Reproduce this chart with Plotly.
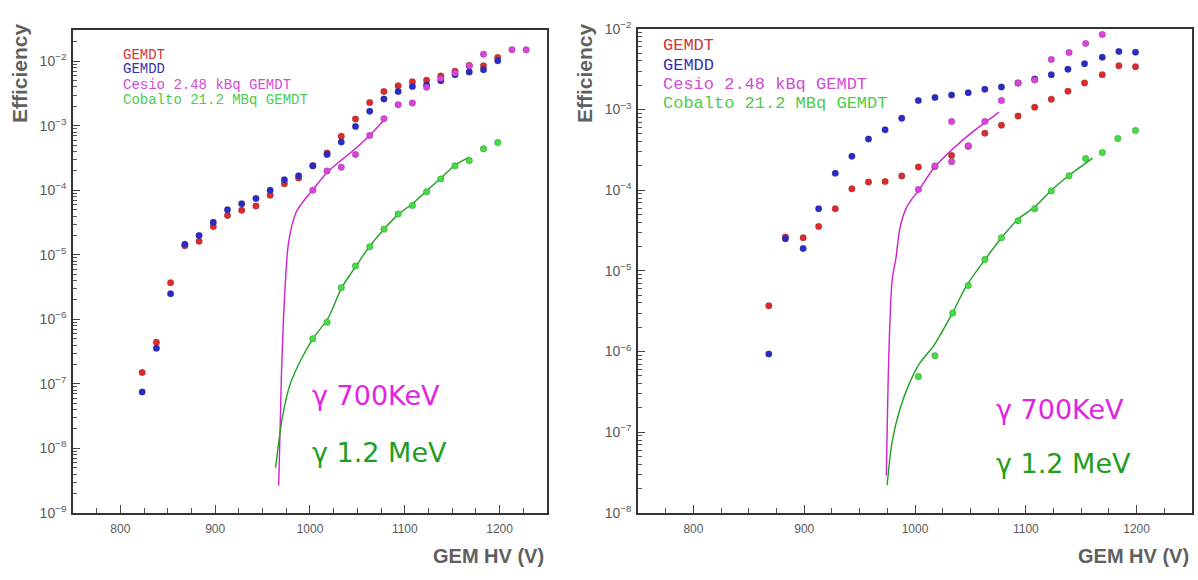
import plotly.graph_objects as go

# ---------------- left panel: efficiency vs GEM HV ----------------
hv_l = [823, 838, 853, 868, 883, 898, 913, 928, 943, 958, 973, 988, 1003,
        1018, 1033, 1048, 1063, 1078, 1093, 1108, 1123, 1138, 1153, 1168,
        1183, 1198]
gemdt_l = [1.5e-7, 4.4e-7, 3.7e-6, 1.38e-5, 1.62e-5, 2.75e-5, 4.07e-5, 4.9e-5,
           5.7e-5, 8.4e-5, 1.27e-4, 1.55e-4, 2.4e-4, 3.8e-4, 6.9e-4, 1.27e-3,
           2.29e-3, 3.4e-3, 4.17e-3, 4.8e-3, 5.1e-3, 5.9e-3, 7.0e-3, 8.6e-3,
           8.5e-3, 1.15e-2]
gemdd_l = [7.5e-8, 3.55e-7, 2.5e-6, 1.46e-5, 2.0e-5, 3.2e-5, 5.0e-5, 6.2e-5,
           7.5e-5, 1.0e-4, 1.46e-4, 1.68e-4, 2.4e-4, 3.6e-4, 5.6e-4, 9.8e-4,
           1.68e-3, 2.6e-3, 3.4e-3, 4.07e-3, 4.3e-3, 5.0e-3, 6.2e-3, 6.8e-3,
           7.4e-3, 1.02e-2]
hv_cs_l = [1003, 1018, 1033, 1048, 1063, 1078, 1093, 1108, 1123, 1138, 1153,
           1168, 1183, 1213, 1228]
cesio_l = [1.0e-4, 2.0e-4, 2.27e-4, 3.6e-4, 7.1e-4, 1.29e-3, 2.13e-3, 2.25e-3,
           3.95e-3, 5.4e-3, 6.6e-3, 8.5e-3, 1.29e-2, 1.51e-2, 1.51e-2]
hv_co_l = [1003, 1018, 1033, 1048, 1063, 1078, 1093, 1108, 1123, 1138, 1153,
           1168, 1183, 1198]
cobalto_l = [5.0e-7, 9.0e-7, 3.1e-6, 6.7e-6, 1.33e-5, 2.5e-5, 4.3e-5, 5.8e-5,
             9.5e-5, 1.5e-4, 2.4e-4, 2.9e-4, 4.4e-4, 5.5e-4]

# fitted curves (left)
fit_cs_hv_l = [967.0, 969.8, 973.0, 977.4, 985.5, 993.5, 1002, 1019, 1035,
               1050, 1065, 1078]
fit_cs_l = [2.66e-9, 1.23e-7, 1.95e-6, 1.55e-5, 4.62e-5, 6.9e-5, 9.8e-5,
            1.95e-4, 3.1e-4, 4.7e-4, 7.6e-4, 1.23e-3]
fit_co_hv_l = [963.7, 971, 979, 991, 1003, 1019, 1033.5, 1048, 1062, 1078,
               1093, 1108, 1123, 1138, 1153, 1168]
fit_co_l = [5.0e-9, 3.1e-8, 9.8e-8, 2.45e-7, 5.0e-7, 1.04e-6, 3.1e-6, 6.5e-6,
            1.3e-5, 2.5e-5, 4.2e-5, 6.2e-5, 9.8e-5, 1.55e-4, 2.45e-4, 3.27e-4]

# ---------------- right panel ----------------
hv_r = [868, 883, 899, 913, 928, 943, 958, 973, 988, 1003, 1018, 1033, 1048,
        1063, 1078, 1093, 1108, 1123, 1138, 1153, 1169, 1184, 1199]
gemdt_r = [3.7e-6, 2.63e-5, 2.57e-5, 3.56e-5, 5.9e-5, 1.04e-4, 1.26e-4,
           1.28e-4, 1.5e-4, 1.94e-4, 1.97e-4, 2.7e-4, 3.5e-4, 5.1e-4, 6.4e-4,
           8.3e-4, 1.07e-3, 1.34e-3, 1.69e-3, 2.14e-3, 2.7e-3, 3.5e-3, 3.4e-3]
gemdd_r = [9.3e-7, 2.5e-5, 1.9e-5, 5.9e-5, 1.62e-4, 2.63e-4, 4.3e-4, 5.6e-4,
           7.8e-4, 1.29e-3, 1.41e-3, 1.51e-3, 1.62e-3, 1.78e-3, 1.9e-3,
           2.13e-3, 2.4e-3, 2.7e-3, 3.16e-3, 3.7e-3, 4.45e-3, 5.25e-3, 5.15e-3]
hv_cs_r = [1003, 1018, 1033, 1033, 1048, 1063, 1078, 1093, 1108, 1123, 1139,
           1154, 1169]
cesio_r = [1.02e-4, 2.0e-4, 2.26e-4, 7.1e-4, 3.56e-4, 7.1e-4, 1.29e-3,
           2.14e-3, 2.33e-3, 4.17e-3, 5.1e-3, 6.6e-3, 8.5e-3]
hv_co_r = [1003, 1018, 1034, 1048, 1063, 1078, 1093, 1108, 1123, 1139, 1154,
           1169, 1183, 1199]
cobalto_r = [4.9e-7, 8.9e-7, 3.0e-6, 6.6e-6, 1.38e-5, 2.57e-5, 4.17e-5,
             5.9e-5, 9.8e-5, 1.51e-4, 2.47e-4, 2.94e-4, 4.37e-4, 5.5e-4]

# fitted curves (right)
fit_cs_hv_r = [974.1, 975.2, 976.6, 979.3, 982.8, 986.2, 991.4, 996.6,
               1003.4, 1017.2, 1034.5, 1051.7, 1075.9]
fit_cs_r = [2.9e-8, 1.9e-7, 1.2e-6, 7.6e-6, 1.45e-5, 3.3e-5, 5.75e-5,
            7.6e-5, 1.0e-4, 1.9e-4, 3.3e-4, 5.25e-4, 9.3e-4]
fit_co_hv_r = [974.8, 979.3, 986.2, 994.8, 1003.4, 1017.2, 1033.8, 1046.6,
               1063.1, 1078.6, 1093.1, 1108.6, 1123.1, 1138.6, 1160.3]
fit_co_r = [2.2e-8, 7.6e-8, 1.9e-7, 4.0e-7, 6.9e-7, 1.2e-6, 3.0e-6, 6.6e-6,
            1.38e-5, 2.63e-5, 4.37e-5, 6.3e-5, 1.0e-4, 1.51e-4, 2.5e-4]

series_names = ["GEMDT", "GEMDD", "Cesio 2.48 kBq GEMDT", "Cobalto 21.2 MBq GEMDT"]
labels_gamma = ["γ 700KeV", "γ 1.2 MeV"]

C_RED = "#e02a2a"
C_BLUE = "#2a2ac8"
C_MAG = "#e040e0"
C_GRN = "#40e040"
C_MAG_LINE = "#d020d0"
C_GRN_LINE = "#22a022"
TEXT_COLORS = ["#cc3838", "#3434b0", "#d24cd2", "#4ccc4c"]
AX_GRAY = "#5a5a5a"

fig = go.Figure()


def add_points(x, y, color, xa, ya):
    fig.add_trace(go.Scatter(
        x=x, y=y, mode="markers", xaxis=xa, yaxis=ya, showlegend=False,
        marker=dict(size=6.5, color=color,
                    line=dict(width=0.8, color="rgba(60,60,60,0.35)"))))


def add_curve(x, y, color, xa, ya):
    fig.add_trace(go.Scatter(
        x=x, y=y, mode="lines", xaxis=xa, yaxis=ya, showlegend=False,
        line=dict(color=color, width=1.4, shape="spline", smoothing=0.8)))


# left panel
add_curve(fit_cs_hv_l, fit_cs_l, C_MAG_LINE, "x", "y")
add_curve(fit_co_hv_l, fit_co_l, C_GRN_LINE, "x", "y")
add_points(hv_l, gemdt_l, C_RED, "x", "y")
add_points(hv_l, gemdd_l, C_BLUE, "x", "y")
add_points(hv_cs_l, cesio_l, C_MAG, "x", "y")
add_points(hv_co_l, cobalto_l, C_GRN, "x", "y")

# right panel
add_curve(fit_cs_hv_r, fit_cs_r, C_MAG_LINE, "x2", "y2")
add_curve(fit_co_hv_r, fit_co_r, C_GRN_LINE, "x2", "y2")
add_points(hv_r, gemdt_r, C_RED, "x2", "y2")
add_points(hv_r, gemdd_r, C_BLUE, "x2", "y2")
add_points(hv_cs_r, cesio_r, C_MAG, "x2", "y2")
add_points(hv_co_r, cobalto_r, C_GRN, "x2", "y2")


def log_axis(lo, hi, top, domain):
    major = [10.0 ** e for e in range(lo, hi + 1)]
    minor = [m * 10.0 ** e for e in range(lo, hi + 1) for m in range(2, 10)]
    return dict(
        type="log", range=[lo, top], domain=domain,
        tickmode="array", tickvals=major,
        ticktext=["10<sup>−%d</sup>" % (-e) for e in range(lo, hi + 1)],
        ticks="inside", ticklen=7, tickwidth=1.2, tickcolor="#444",
        minor=dict(tickmode="array", tickvals=minor, ticks="inside",
                   ticklen=4, tickwidth=1, tickcolor="#555", showgrid=False),
        showgrid=False, zeroline=False, showline=True, mirror=True,
        linecolor="#333", linewidth=1.6,
        tickfont=dict(family="Liberation Sans", size=14, color=AX_GRAY),
        ticklabelstandoff=2,
    )


def hv_axis(domain, anchor):
    return dict(
        range=[750, 1250], domain=domain, anchor=anchor,
        tickmode="array", tickvals=[800, 900, 1000, 1100, 1200],
        ticks="inside", ticklen=8, tickwidth=1.2, tickcolor="#444",
        minor=dict(dtick=25, ticks="inside", ticklen=5, tickwidth=1,
                   tickcolor="#555", showgrid=False),
        showgrid=False, zeroline=False, showline=True, mirror=True,
        linecolor="#333", linewidth=1.6,
        tickfont=dict(family="Liberation Sans", size=12, color=AX_GRAY),
        ticklabelstandoff=4,
    )


fig.update_layout(
    width=1198, height=580,
    margin=dict(l=0, r=0, t=0, b=0),
    paper_bgcolor="white", plot_bgcolor="white",
    xaxis=hv_axis([0.0609, 0.4566], "y"),
    yaxis=dict(log_axis(-9, -2, -1.52, [0.1052, 0.9638]), anchor="x"),
    xaxis2=hv_axis([0.5326, 0.995], "y2"),
    yaxis2=dict(log_axis(-8, -2, -2.0, [0.1052, 0.9664]), anchor="x2"),
)

ann = []

# axis titles
for xr in (546, 1191):
    ann.append(dict(x=xr, y=563, text="GEM HV (V)",
                    showarrow=False, xanchor="right", yanchor="middle",
                    font=dict(family="Liberation Sans", size=20, color="#606060",
                              weight="bold")))
for xc in (20, 585):
    ann.append(dict(x=xc, y=65, text="Efficiency", textangle=-90, showarrow=False,
                    xanchor="center", yanchor="middle",
                    font=dict(family="Liberation Sans", size=21, color="#606060",
                              weight="bold")))

# in-plot legend texts
legend_rows = [
    (121, [46, 61, 77, 93], 14),
    (661, [37, 57, 77, 97], 17),
]
for x0, ys, fs in legend_rows:
    for name, yy, col in zip(series_names, ys, TEXT_COLORS):
        ann.append(dict(x=x0, y=yy, text=name, showarrow=False,
                        xanchor="left", yanchor="middle",
                        font=dict(family="Liberation Mono", size=fs, color=col)))

# photon energy labels
gamma_pos = [(310, 398, 457), (994, 412, 468)]
for x0, y1, y2 in gamma_pos:
    ann.append(dict(x=x0, y=y1, text=labels_gamma[0], showarrow=False,
                    xanchor="left", yanchor="middle",
                    font=dict(family="DejaVu Sans", size=27, color="#e024e0")))
    ann.append(dict(x=x0, y=y2, text=labels_gamma[1], showarrow=False,
                    xanchor="left", yanchor="middle",
                    font=dict(family="DejaVu Sans", size=27, color="#1f9e1f")))

# convert pixel positions to paper coordinates
for a in ann:
    a["xref"] = "paper"
    a["yref"] = "paper"
    a["x"] = a["x"] / 1198.0
    a["y"] = 1.0 - a["y"] / 580.0

fig.update_layout(annotations=ann)

fig.write_html("out.html")
